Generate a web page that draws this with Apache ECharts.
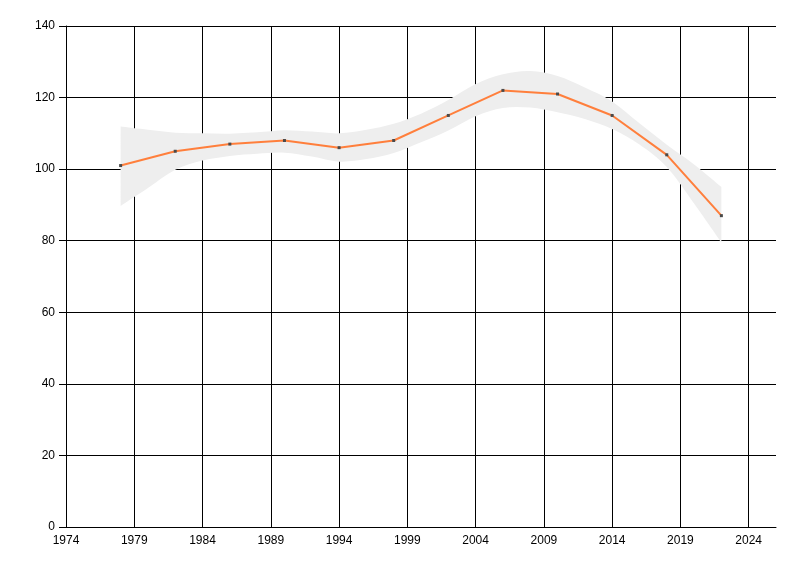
<!DOCTYPE html>
<html>
<head>
<meta charset="utf-8">
<script src="https://cdn.jsdelivr.net/npm/echarts@6/dist/echarts.min.js"></script>
<style>html,body{margin:0;padding:0;background:#fff}#c{width:800px;height:576px}</style>
</head>
<body>
<div id="c"></div>
<script>
// Observed series
const years = [1978, 1982, 1986, 1990, 1994, 1998, 2002, 2006, 2010, 2014, 2018, 2022];
const values = [101, 105, 107, 108, 106, 108, 115, 122, 121, 115, 104, 87];

// Smoothed confidence band
const bandYears = [1978, 1980, 1982, 1984, 1986, 1988, 1990, 1992, 1994, 1996, 1998, 2000, 2002, 2004, 2006, 2008, 2010, 2012, 2014, 2016, 2018, 2020, 2022];
const bandUpper = [111.9, 111.0, 110.2, 110.0, 109.9, 110.3, 110.9, 110.5, 110.0, 111.0, 112.7, 115.5, 119.3, 123.8, 126.5, 127.4, 126.0, 122.8, 118.9, 112.8, 106.8, 101.3, 95.0];
const bandLower = [89.7, 94.7, 99.8, 102.4, 103.7, 104.3, 104.6, 103.5, 102.1, 102.8, 104.5, 107.5, 110.8, 114.8, 117.1, 117.2, 115.9, 114.0, 111.2, 106.9, 100.6, 90.4, 79.5];

const font = "'Liberation Sans Narrow', 'Liberation Sans', Arial, sans-serif";

// Catmull-Rom -> cubic Bezier path commands through pixel points
function splineCmds(pts) {
  let d = '';
  const n = pts.length;
  for (let i = 0; i < n - 1; i++) {
    const p0 = pts[Math.max(i - 1, 0)], p1 = pts[i], p2 = pts[i + 1], p3 = pts[Math.min(i + 2, n - 1)];
    const c1 = [p1[0] + (p2[0] - p0[0]) / 6, p1[1] + (p2[1] - p0[1]) / 6];
    const c2 = [p2[0] - (p3[0] - p1[0]) / 6, p2[1] - (p3[1] - p1[1]) / 6];
    d += ' C' + c1[0] + ',' + c1[1] + ' ' + c2[0] + ',' + c2[1] + ' ' + p2[0] + ',' + p2[1];
  }
  return d;
}

function renderBand(params, api) {
  if (params.dataIndex !== 0) return null;
  const up = bandYears.map((y, i) => api.coord([y, bandUpper[i]]));
  const lo = bandYears.map((y, i) => api.coord([y, bandLower[i]])).reverse();
  let d = 'M' + up[0][0] + ',' + up[0][1] + splineCmds(up);
  d += ' L' + lo[0][0] + ',' + lo[0][1] + splineCmds(lo) + ' Z';
  return {
    type: 'path',
    shape: {pathData: d},
    style: {fill: '#eeeeee', stroke: null},
    silent: true
  };
}

const chart = echarts.init(document.getElementById('c'), null, {renderer: 'canvas'});
chart.setOption({
  animation: false,
  backgroundColor: '#ffffff',
  grid: {left: 66, right: 24, top: 26, bottom: 49, containLabel: false},
  xAxis: {
    type: 'value', min: 1974, max: 2026, interval: 5,
    axisLine: {show: true, onZero: false, lineStyle: {color: '#000', width: 1}},
    axisTick: {show: false},
    splitLine: {show: true, showMaxLine: false, lineStyle: {color: '#000', width: 1}},
    axisLabel: {color: '#000', fontFamily: font, fontSize: 12, margin: 8, showMaxLabel: false,
      formatter: v => String(v)}
  },
  yAxis: {
    type: 'value', min: 0, max: 140, interval: 20,
    axisLine: {show: true, lineStyle: {color: '#000', width: 1}},
    axisTick: {show: true, length: 7, lineStyle: {color: '#000'}},
    splitLine: {show: true, lineStyle: {color: '#000', width: 1}},
    axisLabel: {color: '#000', fontFamily: font, fontSize: 12, margin: 11}
  },
  series: [
    {
      type: 'custom', name: 'band', z: 2, clip: true,
      data: bandYears.map((y, i) => [y, bandLower[i], bandUpper[i]]),
      encode: {x: 0, y: [1, 2]},
      renderItem: renderBand
    },
    {
      type: 'line', name: 'value', z: 3,
      data: years.map((y, i) => [y, values[i]]),
      symbol: 'rect', symbolSize: 3, showSymbol: true,
      itemStyle: {color: '#4a4a4a'},
      lineStyle: {color: '#ff7f3c', width: 2}
    }
  ]
});
</script>
</body>
</html>
